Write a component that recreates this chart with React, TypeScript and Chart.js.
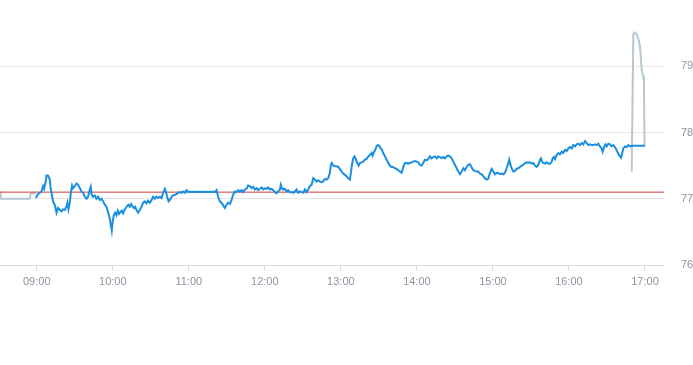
import React, { useEffect, useRef } from "react";
import { Chart, registerables } from "chart.js";
Chart.register(...registerables);

// Time values are minutes after midnight; prices in currency units.
const hourTicks = [540, 600, 660, 720, 780, 840, 900, 960, 1020];
const yTicks = [76, 77, 78, 79];
const X_MIN = 511;
const X_MAX = 1035;
const Y_MIN = 76;
const Y_MAX = 80;
const refPrice = 77.1;

const preTimes = [510.8, 511.6, 534.5, 535.3, 539.2];
const prePrices = [77.11, 77.0, 77.0, 77.08, 77.08];

const sessionTimes = [
  539.2, 541.0, 542.4, 543.7, 545.0, 545.8, 546.9, 547.7, 548.9, 550.3, 550.8, 551.6, 552.9, 554.2, 555.6, 556.8,
  558.2, 559.5, 560.8, 562.1, 563.5, 564.2, 565.0, 566.1, 566.9, 567.9, 568.7, 570.0, 571.4, 572.6, 574.0, 575.3,
  576.6, 577.9, 579.3, 580.5, 581.9, 582.6, 583.4, 584.5, 585.8, 587.1, 588.4, 589.8, 591.1, 592.4, 593.7, 595.0,
  596.3, 597.6, 598.4, 599.2, 600.0, 600.8, 601.8, 602.9, 604.0, 605.0, 606.1, 607.1, 608.1, 609.2, 610.3, 611.3,
  612.4, 613.4, 614.5, 615.6, 616.6, 617.6, 618.7, 620.0, 621.3, 622.7, 623.9, 625.3, 626.6, 627.9, 629.2, 630.6,
  631.8, 633.2, 634.5, 635.8, 637.1, 638.5, 639.7, 641.1, 641.9, 642.9, 644.0, 645.0, 646.4, 647.6, 649.0, 650.3,
  651.6, 652.9, 654.3, 655.5, 656.9, 658.2, 659.5, 660.8, 662.1, 663.4, 664.7, 666.1, 667.4, 668.7, 670.0, 671.3,
  672.6, 674.0, 675.3, 676.6, 677.9, 679.2, 680.5, 681.9, 683.1, 684.5, 685.8, 687.1, 688.4, 689.8, 691.0, 692.4,
  693.7, 695.0, 696.3, 697.7, 698.9, 700.3, 701.6, 702.9, 704.2, 705.6, 706.8, 708.2, 709.5, 710.8, 712.1, 713.5,
  714.7, 716.1, 717.4, 718.7, 720.0, 721.4, 722.6, 724.0, 725.3, 726.6, 727.9, 729.2, 730.5, 731.9, 732.6, 733.4,
  734.5, 735.8, 737.2, 738.4, 739.8, 741.1, 742.4, 743.7, 745.0, 746.3, 747.7, 749.0, 750.3, 751.6, 752.9, 754.2,
  755.5, 756.9, 758.2, 759.5, 760.8, 762.1, 763.4, 764.8, 766.0, 767.4, 768.7, 770.0, 771.3, 772.1, 772.9, 774.0,
  775.3, 776.6, 777.9, 779.2, 780.6, 781.8, 783.2, 784.5, 785.8, 787.1, 787.9, 788.7, 789.7, 790.8, 791.9, 792.9,
  794.0, 795.0, 796.4, 797.6, 799.0, 800.3, 801.6, 802.9, 804.3, 805.0, 806.1, 807.1, 808.2, 809.2, 810.3, 811.4,
  812.4, 813.4, 814.8, 816.1, 817.4, 818.7, 820.0, 821.3, 822.7, 824.0, 825.3, 826.6, 827.9, 828.7, 829.8, 830.8,
  831.9, 833.2, 834.5, 835.8, 837.1, 838.4, 839.8, 841.0, 842.4, 843.7, 845.0, 846.3, 847.7, 848.9, 850.3, 851.6,
  852.9, 854.2, 855.6, 856.8, 858.2, 859.5, 860.8, 862.1, 863.5, 864.7, 866.1, 867.4, 868.7, 870.0, 871.4, 872.6,
  874.0, 875.3, 876.6, 877.9, 879.2, 880.5, 881.9, 883.2, 884.5, 885.8, 887.2, 888.4, 889.8, 891.1, 892.4, 893.7,
  895.0, 896.3, 897.7, 899.0, 900.3, 901.6, 902.9, 904.2, 905.6, 906.9, 908.2, 909.5, 910.8, 912.1, 912.9, 914.0,
  915.0, 916.1, 917.4, 918.7, 920.0, 921.3, 922.7, 923.9, 925.3, 926.6, 927.9, 929.2, 930.6, 931.8, 933.2, 934.5,
  935.8, 937.1, 937.9, 938.7, 939.7, 941.1, 942.4, 943.7, 945.0, 946.4, 947.2, 948.2, 949.0, 950.3, 951.6, 952.9,
  954.3, 955.5, 956.9, 958.2, 959.5, 960.8, 962.2, 963.4, 964.8, 966.1, 967.4, 968.7, 970.1, 971.3, 972.7, 974.0,
  975.3, 976.6, 977.9, 979.2, 980.5, 981.9, 983.2, 984.5, 985.8, 986.6, 987.7, 988.7, 989.8, 991.0, 992.4, 993.7,
  995.0, 996.3, 997.7, 998.9, 1000.3, 1001.1, 1001.9, 1002.9, 1004.2, 1005.6, 1006.8, 1008.2, 1009.5, 1020.0,
];
const sessionPrices = [
  77.01, 77.07, 77.09, 77.11, 77.19, 77.15, 77.24, 77.35, 77.35, 77.29, 77.19, 77.09, 76.96, 76.91, 76.79, 76.86,
  76.83, 76.81, 76.84, 76.83, 76.89, 76.94, 76.84, 76.94, 77.09, 77.2, 77.16, 77.19, 77.23, 77.21, 77.16, 77.11,
  77.09, 77.03, 77.0, 77.03, 77.14, 77.18, 77.06, 77.03, 77.05, 77.0, 77.03, 76.98, 77.0, 76.96, 76.91, 76.88,
  76.8, 76.7, 76.61, 76.52, 76.67, 76.75, 76.79, 76.75, 76.82, 76.77, 76.8, 76.82, 76.78, 76.83, 76.86, 76.89,
  76.91, 76.88, 76.92, 76.88, 76.86, 76.88, 76.83, 76.79, 76.83, 76.88, 76.94, 76.96, 76.93, 76.97, 76.94, 76.98,
  77.03, 77.0, 77.03, 77.01, 77.03, 77.01, 77.09, 77.15, 77.11, 77.03, 76.96, 76.98, 77.03, 77.05, 77.06, 77.07,
  77.09, 77.1, 77.09, 77.11, 77.09, 77.13, 77.1, 77.11, 77.1, 77.11, 77.1, 77.11, 77.1, 77.11, 77.1, 77.11,
  77.1, 77.11, 77.1, 77.11, 77.1, 77.11, 77.1, 77.13, 77.03, 76.96, 76.94, 76.9, 76.86, 76.91, 76.94, 76.92,
  76.98, 77.06, 77.11, 77.1, 77.13, 77.11, 77.13, 77.1, 77.14, 77.15, 77.2, 77.19, 77.16, 77.18, 77.14, 77.16,
  77.13, 77.15, 77.17, 77.14, 77.16, 77.15, 77.17, 77.14, 77.15, 77.13, 77.1, 77.08, 77.11, 77.14, 77.21, 77.16,
  77.14, 77.15, 77.11, 77.13, 77.1, 77.1, 77.09, 77.11, 77.14, 77.09, 77.11, 77.1, 77.09, 77.14, 77.1, 77.14,
  77.19, 77.21, 77.31, 77.29, 77.26, 77.28, 77.26, 77.25, 77.26, 77.3, 77.29, 77.31, 77.39, 77.51, 77.54, 77.5,
  77.49, 77.49, 77.48, 77.45, 77.41, 77.38, 77.36, 77.34, 77.31, 77.29, 77.39, 77.51, 77.61, 77.64, 77.59, 77.54,
  77.5, 77.54, 77.55, 77.56, 77.59, 77.6, 77.64, 77.66, 77.69, 77.65, 77.7, 77.74, 77.79, 77.81, 77.8, 77.76,
  77.74, 77.69, 77.64, 77.59, 77.54, 77.5, 77.48, 77.48, 77.46, 77.45, 77.43, 77.41, 77.39, 77.44, 77.51, 77.54,
  77.54, 77.53, 77.54, 77.55, 77.56, 77.57, 77.56, 77.55, 77.51, 77.5, 77.54, 77.59, 77.58, 77.6, 77.64, 77.61,
  77.63, 77.64, 77.61, 77.64, 77.63, 77.61, 77.63, 77.61, 77.64, 77.65, 77.64, 77.61, 77.56, 77.51, 77.46, 77.41,
  77.37, 77.41, 77.46, 77.43, 77.48, 77.51, 77.52, 77.47, 77.43, 77.42, 77.41, 77.41, 77.38, 77.37, 77.34, 77.31,
  77.29, 77.3, 77.39, 77.45, 77.41, 77.37, 77.39, 77.39, 77.37, 77.38, 77.37, 77.39, 77.46, 77.54, 77.59, 77.5,
  77.45, 77.41, 77.42, 77.45, 77.46, 77.48, 77.5, 77.51, 77.54, 77.55, 77.54, 77.55, 77.53, 77.54, 77.5, 77.48,
  77.51, 77.59, 77.61, 77.56, 77.54, 77.53, 77.55, 77.53, 77.53, 77.56, 77.61, 77.63, 77.6, 77.66, 77.69, 77.67,
  77.71, 77.69, 77.74, 77.72, 77.76, 77.78, 77.76, 77.81, 77.79, 77.82, 77.83, 77.81, 77.84, 77.82, 77.87, 77.84,
  77.81, 77.82, 77.81, 77.81, 77.82, 77.81, 77.83, 77.79, 77.76, 77.71, 77.78, 77.82, 77.79, 77.83, 77.82, 77.79,
  77.81, 77.78, 77.73, 77.68, 77.64, 77.62, 77.68, 77.76, 77.79, 77.78, 77.81, 77.79, 77.8, 77.8,
];

const postTimes = [1009.5, 1010.8, 1011.7, 1013.5, 1014.7, 1016.1, 1017.4, 1018.7, 1019.2, 1019.6, 1020.0];
const postPrices = [77.41, 79.49, 79.51, 79.48, 79.42, 79.29, 78.94, 78.84, 78.74, 77.8, 77.8];

const BLUE = "#1a8fe0";
const GRAY = "#b7c8d3";
const RED = "#cc3b33";
const LABEL = "#8a95a1";
const FONT = { family: "'Liberation Sans', Arial, sans-serif", size: 11 };

function fmt(v: number) {
  const h = Math.floor(v / 60);
  const m = Math.round(v - h * 60);
  return String(h).padStart(2, "0") + ":" + String(m).padStart(2, "0");
}

export default function App() {
  const ref = useRef<HTMLCanvasElement>(null);
  useEffect(() => {
    const pts = (t: number[], p: number[]) => t.map((x, i) => ({ x, y: p[i] }));
    const chart = new Chart(ref.current!, {
      type: "line",
      data: {
        datasets: [
          { data: pts(sessionTimes, sessionPrices), borderColor: BLUE, borderWidth: 2, pointRadius: 0, tension: 0, order: 0 },
          { data: [{ x: X_MIN, y: refPrice }, { x: X_MAX, y: refPrice }], borderColor: RED, borderWidth: 1, pointRadius: 0, order: 1 },
          { data: pts(preTimes, prePrices), borderColor: GRAY, borderWidth: 2, pointRadius: 0, order: 2 },
          { data: pts(postTimes, postPrices), borderColor: GRAY, borderWidth: 2, pointRadius: 0, order: 2 },
        ],
      },
      options: {
        animation: false,
        responsive: false,
        layout: { padding: 0 },
        plugins: { legend: { display: false }, tooltip: { enabled: false } },
        scales: {
          x: {
            type: "linear",
            min: X_MIN,
            max: X_MAX,
            grid: { drawOnChartArea: false, drawTicks: true, tickLength: 6, color: "#d9dde2" },
            border: { display: true, color: "#d9dde2" },
            ticks: { padding: 4, color: LABEL, font: FONT, autoSkip: false, maxRotation: 0, callback: (v: any) => fmt(Number(v)) },
            afterBuildTicks: (a: any) => { a.ticks = hourTicks.map((v) => ({ value: v })); },
            afterFit: (s: any) => { s.height = 100; s.paddingLeft = 0; s.paddingRight = 0; },
          },
          y: {
            position: "right",
            min: Y_MIN,
            max: Y_MAX,
            grid: { color: "#e6e8ea", drawTicks: false },
            border: { display: false },
            ticks: { padding: 17, color: LABEL, font: FONT },
            afterBuildTicks: (a: any) => { a.ticks = yTicks.map((v) => ({ value: v })); },
            afterFit: (s: any) => { s.width = 29; s.paddingTop = 0; s.paddingBottom = 0; },
          },
        },
      },
    } as any);
    return () => chart.destroy();
  }, []);
  return (
    <div style={{ position: "absolute", left: 0, top: 0, width: 693, height: 365 }}>
      <canvas ref={ref} width={693} height={365} style={{ display: "block" }} />
    </div>
  );
}
